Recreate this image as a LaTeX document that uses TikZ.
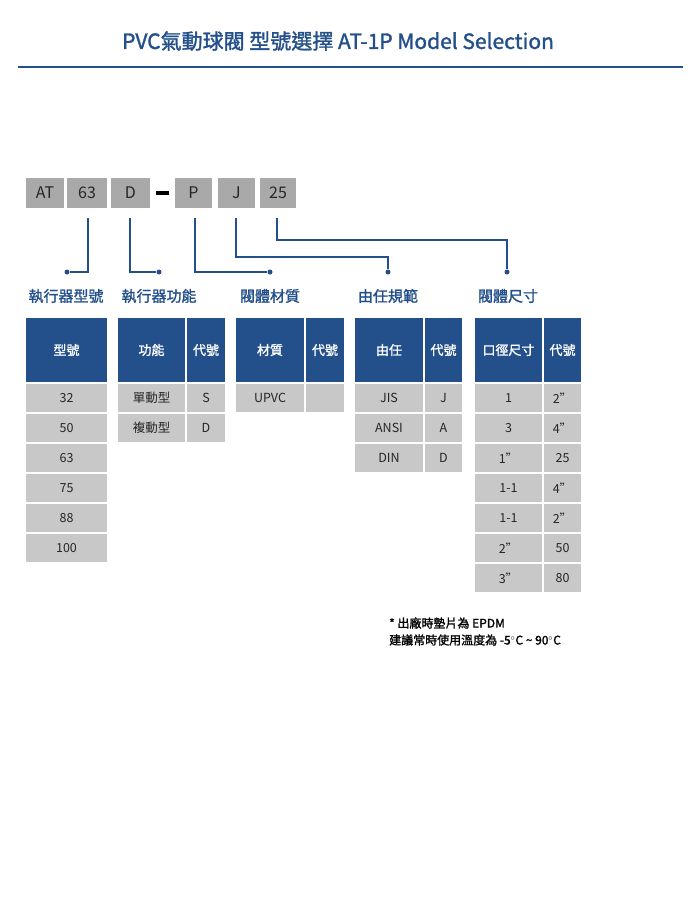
\documentclass[tikz,border=0pt]{standalone}
\usepackage{fontspec}
\setmainfont{Noto Sans CJK TC}
\newfontfamily\boldcjk[FakeBold=1.5]{Noto Sans CJK TC}
\definecolor{navy}{HTML}{234F8A}
\definecolor{cellgray}{HTML}{C8C8C8}
\definecolor{codegray}{HTML}{A9A9A9}
\newcommand\cellbox[7]{\node[#1,minimum width=#5-#3,minimum height=#6-#4] (#2) at ({(#3+#5)/2},{(#4+#6)/2}) {#7};}
\begin{document}
\begin{tikzpicture}[x=1pt,y=-1pt,
  hdr/.style={fill=navy,text=white,inner sep=0pt,font=\boldcjk\fontsize{13}{13}\selectfont},
  dat/.style={fill=cellgray,text=black!85,inner sep=0pt,font=\fontsize{12.5}{13}\selectfont},
  code/.style={fill=codegray,text=black!85,inner sep=0pt,font=\fontsize{16}{16}\selectfont},
  lbl/.style={text=navy,inner sep=0pt,font=\boldcjk\fontsize{15}{15}\selectfont},
  conn/.style={navy,line width=2.2pt},
  dot/.style={circle,fill=navy,inner sep=0pt,minimum size=5pt}]
\useasboundingbox[fill=white] (0,0) rectangle (700,899);
\node[text=navy,font=\boldcjk\fontsize{21}{21}\selectfont] (title) at (338,41) {PVC氣動球閥 型號選擇 AT-1P Model Selection};
\draw[navy,line width=2.5pt] (18,67) -- (683,67);
% code boxes
\cellbox{code}{cAT}{26}{178}{64}{208}{AT}
\cellbox{code}{c63}{67}{178}{107}{208}{63}
\cellbox{code}{cD}{111}{178}{150}{208}{D}
\fill (156,191) rectangle (169,195);
\cellbox{code}{cP}{175}{178}{212}{208}{P}
\cellbox{code}{cJ}{218}{178}{255}{208}{J}
\cellbox{code}{c25}{260}{178}{296}{208}{25}
% dots
\node[dot] (d1) at (67,272) {};
\node[dot] (d2) at (159,272) {};
\node[dot] (d3) at (270,272) {};
\node[dot] (d4) at (388,272) {};
\node[dot] (d5) at (507,272) {};
\draw[conn] (88,218) |- (d1);
\draw[conn] (130,218) |- (d2);
\draw[conn] (195,218) |- (d3);
\draw[conn] (236,218) |- (388,257) -- (d4);
\draw[conn] (277,218) |- (507,240) -- (d5);
% labels
\node[lbl] (l1) at (66,296) {執行器型號};
\node[lbl] (l2) at (159,296) {執行器功能};
\node[lbl] (l3) at (270,296) {閥體材質};
\node[lbl] (l4) at (388,296) {由任規範};
\node[lbl] (l5) at (508,296) {閥體尺寸};
% headers
\cellbox{hdr}{h1}{26}{318}{107}{382}{型號}
\cellbox{hdr}{h2a}{118}{318}{185}{382}{功能}
\cellbox{hdr}{h2b}{187}{318}{225}{382}{代號}
\cellbox{hdr}{h3a}{236}{318}{304}{382}{材質}
\cellbox{hdr}{h3b}{306}{318}{344}{382}{代號}
\cellbox{hdr}{h4a}{355}{318}{423}{382}{由任}
\cellbox{hdr}{h4b}{425}{318}{462}{382}{代號}
\cellbox{hdr}{h5a}{475}{318}{542}{382}{口徑尺寸}
\cellbox{hdr}{h5b}{544}{318}{581}{382}{代號}
% data
\foreach \v [count=\i from 0] in {32,50,63,75,88,100}{
  \pgfmathsetmacro\ya{384+30*\i}\pgfmathsetmacro\yb{\ya+28}
  \cellbox{dat}{a\i}{26}{\ya}{107}{\yb}{\v}}
\foreach \v/\c [count=\i from 0] in {單動型/S,複動型/D}{
  \pgfmathsetmacro\ya{384+30*\i}\pgfmathsetmacro\yb{\ya+28}
  \cellbox{dat}{b\i}{118}{\ya}{185}{\yb}{\v}
  \cellbox{dat}{bc\i}{187}{\ya}{225}{\yb}{\c}}
\cellbox{dat}{m0}{236}{384}{304}{412}{UPVC}
\cellbox{dat}{mc0}{306}{384}{344}{412}{}
\foreach \v/\c [count=\i from 0] in {JIS/J,ANSI/A,DIN/D}{
  \pgfmathsetmacro\ya{384+30*\i}\pgfmathsetmacro\yb{\ya+28}
  \cellbox{dat}{u\i}{355}{\ya}{423}{\yb}{\v}
  \cellbox{dat}{uc\i}{425}{\ya}{462}{\yb}{\c}}
\foreach \v/\c [count=\i from 0] in {1/2"/15,3/4"/20,1"/25,1-1/4"/32,1-1/2"/40,2"/50,3"/80}{
  \pgfmathsetmacro\ya{384+30*\i}\pgfmathsetmacro\yb{\ya+28}
  \cellbox{dat}{s\i}{475}{\ya}{542}{\yb}{\v}
  \cellbox{dat}{sc\i}{544}{\ya}{581}{\yb}{\c}}
% note
\node[anchor=west,inner sep=0pt,font=\boldcjk\fontsize{12}{12}\selectfont] (n1) at (389,623) {* 出廠時墊片為 EPDM};
\node[anchor=west,inner sep=0pt,font=\boldcjk\fontsize{12}{12}\selectfont] (n2) at (389,640) {建議常時使用溫度為 -5$^\circ$C \textasciitilde{} 90$^\circ$C};
\end{tikzpicture}
\end{document}
